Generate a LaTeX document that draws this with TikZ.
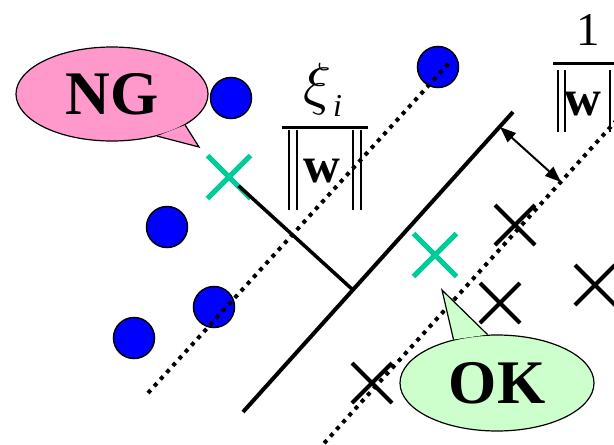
\documentclass[tikz,border=0pt]{standalone}
\usepackage{fontspec}
\setmainfont{Liberation Serif}
\usetikzlibrary{shapes.misc,shapes.geometric,arrows.meta,calc}
\definecolor{ptblue}{HTML}{0000FF}
\definecolor{ngpink}{HTML}{FF99CC}
\definecolor{okgreen}{HTML}{CCFFCC}
\definecolor{slackgreen}{HTML}{00CC99}
\begin{document}
\begin{tikzpicture}[x=1pt,y=-1pt,
  pt/.style={circle, draw=black, line width=1.5pt, fill=ptblue, minimum size=41pt, inner sep=0pt},
  negx/.style={cross out, draw=black, line width=4pt, minimum size=36pt, inner sep=0pt},
  slackx/.style={cross out, draw=slackgreen, line width=5pt, minimum size=38pt, inner sep=0pt},
  marginline/.style={line width=4pt, dash pattern=on 4pt off 5.2pt},
  hyper/.style={line width=4pt},
  perpline/.style={line width=3.5pt},
  bubble/.style={ellipse, draw=black, line width=1.2pt, inner sep=0pt, font=\fontsize{62}{62}\selectfont\bfseries},
  tailedge/.style={line width=1.2pt, line join=miter},
  normbar/.style={line width=2.5pt},
  fracbar/.style={line width=3pt},
  boldw/.style={anchor=base, inner sep=0pt, font=\fontsize{51}{51}\selectfont\bfseries}
]
\useasboundingbox (0,0) rectangle (614,445);
\clip (0,0) rectangle (614,445);

% positive points
\node[pt] (c1) at (231,98) {};
\node[pt] (c2) at (438,67) {};
\node[pt] (c3) at (167,227) {};
\node[pt] (c4) at (214,307) {};
\node[pt] (c5) at (134,338) {};

% lines
\coordinate (mL1) at (148,393);
\coordinate (mL2) at (450,62);
\coordinate (h1) at (243,412);
\coordinate (h2) at (513,112);
\coordinate (mR1) at (318,450);
\coordinate (mR2) at (625,111);
\coordinate (foot) at (353,290);
\coordinate (a1) at (500,127);
\coordinate (a2) at (561,182);

\draw[marginline] (mL1) -- (mL2);
\draw[marginline] (mR1) -- (mR2);
\draw[hyper] (h1) -- (h2);

% crosses
\node[slackx] (s1) at (229,177) {};
\node[slackx] (s2) at (435,255) {};
\node[negx] (n1) at (515,225) {};
\node[negx] (n2) at (500,303) {};
\node[negx] (n3) at (595,285) {};
\node[negx] (n4) at (372,383) {};

\draw[perpline, shorten <=13pt] (s1.center) -- (foot);
\draw[line width=2pt, {Triangle[length=16pt,width=12pt]}-{Triangle[length=16pt,width=12pt]}] (a1) -- (a2);

% fraction xi_i / ||w||
\node[anchor=north west, inner sep=0pt, scale=5.8] (xi) at (302,62) {$\xi$};
\node[anchor=base west, inner sep=0pt, font=\fontsize{32}{32}\selectfont\itshape] (xisub) at (333,116) {i};
\draw[fracbar] (282,127) -- (368,127);
\node[boldw] (wL) at (322,182) {w};
\draw[normbar] (289,130) -- (289,210);
\draw[normbar] (297,130) -- (297,210);
\draw[normbar] (353,130) -- (353,210);
\draw[normbar] (361,130) -- (361,210);

% fraction 1 / ||w||
\node[anchor=base, inner sep=0pt, font=\fontsize{47}{47}\selectfont] (one) at (588,45) {1};
\draw[fracbar] (553,63) -- (620,63);
\node[boldw] (wR) at (583,115) {w};
\draw[normbar] (558,70) -- (558,132);
\draw[normbar] (565,70) -- (565,132);
\draw[normbar] (610,70) -- (610,132);
\draw[normbar] (617,70) -- (617,132);

% NG bubble
\node[bubble, fill=ngpink, minimum width=192pt, minimum height=94pt] (ng) at (112,94) {NG};
\coordinate (ngtip) at (199,147);
\fill[ngpink] (ng.-23) -- (ngtip) -- (ng.-43) -- cycle;
\draw[tailedge] (ng.-23) -- (ngtip) -- (ng.-43);

% OK bubble
\node[bubble, fill=okgreen, minimum width=194pt, minimum height=96pt] (ok) at (497,383) {OK};
\coordinate (oktip) at (442,290);
\fill[okgreen] (ok.135) -- (oktip) -- (ok.101) -- cycle;
\draw[tailedge] (ok.135) -- (oktip) -- (ok.101);
\end{tikzpicture}
\end{document}
